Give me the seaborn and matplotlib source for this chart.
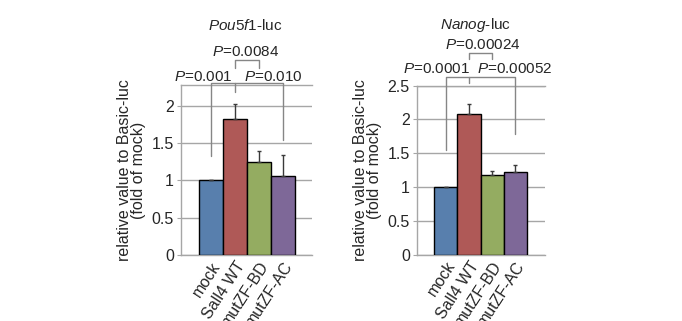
import matplotlib
matplotlib.use("Agg")
import matplotlib.pyplot as plt
import seaborn as sns
import pandas as pd

groups = ["mock", "Sall4 WT", "mutZF-BD", "mutZF-AC"]
colors = ["#4a7ebb", "#be4b48", "#98b954", "#7d60a0"]

pou_vals = [1.0, 1.82, 1.25, 1.055]
pou_err = [0.0, 0.20, 0.15, 0.29]
nanog_vals = [1.0, 2.08, 1.175, 1.215]
nanog_err = [0.0, 0.145, 0.06, 0.11]

pou_p = ["0.001", "0.010", "0.0084"]
nanog_p = ["0.0001", "0.00052", "0.00024"]

sns.set_style("white")
plt.rcParams["font.family"] = ["Liberation Sans", "DejaVu Sans"]
plt.rcParams["mathtext.fontset"] = "custom"
plt.rcParams["mathtext.rm"] = "Liberation Sans"
plt.rcParams["mathtext.it"] = "Liberation Sans:italic"

fs = 11.5     # axis text
fs_p = 11     # p values and titles
grid_c = "#a6a6a6"
line_c = "#868686"

fig = plt.figure(figsize=(6.82, 3.21), dpi=100)
ax1 = fig.add_axes([0.2654, 0.2056, 0.1921, 0.5296])
ax2 = fig.add_axes([0.611, 0.207, 0.188, 0.526])


def draw_panel(ax, vals, err, ymax, yticks, xlim):
    df = pd.DataFrame({"group": groups, "value": vals})
    sns.barplot(data=df, x="group", y="value", hue="group", palette=colors,
                width=1.0, edgecolor="black", linewidth=1.0, legend=False, ax=ax,
                zorder=3)
    ax.errorbar(range(len(vals)), vals, yerr=[[0] * len(vals), err], fmt="none",
                ecolor="#3a3a3a", elinewidth=1.0, capsize=1.6, capthick=1.0, zorder=4)
    ax.set_ylim(0, ymax)
    ax.set_xlim(*xlim)
    ax.set_yticks(yticks)
    ax.set_yticklabels([f"{t:g}" for t in yticks], fontsize=fs)
    ax.yaxis.grid(True, color=grid_c, linewidth=1.0, zorder=0)
    ax.set_axisbelow(True)
    for s in ["left", "bottom", "top"]:
        ax.spines[s].set_color(grid_c)
        ax.spines[s].set_linewidth(1.0)
    ax.spines["right"].set_visible(False)
    ax.tick_params(axis="y", length=3, color=grid_c, pad=2, left=True)
    ax.tick_params(axis="x", length=0, pad=3)
    ax.set_xticks(range(len(groups)))
    ax.set_xticklabels(groups, rotation=57, ha="right", rotation_mode="anchor", fontsize=fs)
    ax.set_xlabel("")
    ax.set_ylabel("relative value to Basic-luc\n(fold of mock)", fontsize=fs,
                  linespacing=0.9, labelpad=4)


def brackets(ax, y_low, drop_left, drop_right, mid_drop, y_top2, drop2):
    kw = dict(color=line_c, linewidth=1.0, clip_on=False, zorder=5)
    ax.plot([0, 0, 3, 3], [drop_left, y_low, y_low, drop_right], **kw)
    ax.plot([1, 1], [y_low, mid_drop], **kw)
    ax.plot([1, 1, 2, 2], [drop2, y_top2, y_top2, drop2], **kw)


def ptext(ax, x, y, p):
    ax.text(x, y, r"$\mathit{P}$=" + p, ha="center", va="center", fontsize=fs_p,
            clip_on=False)


# Pou5f1 panel
draw_panel(ax1, pou_vals, pou_err, 2.28, [0, 0.5, 1, 1.5, 2], (-1.26, 4.21))
brackets(ax1, 2.31, 1.33, 1.54, 2.19, 2.62, 2.51)
ptext(ax1, -0.33, 2.39, pou_p[0])
ptext(ax1, 2.59, 2.39, pou_p[1])
ptext(ax1, 1.43, 2.72, pou_p[2])
ax1.text(1.43, 3.08, r"$\mathit{Pou5f1}$-luc", ha="center", va="center",
         fontsize=fs_p, clip_on=False)

# Nanog panel
draw_panel(ax2, nanog_vals, nanog_err, 2.5, [0, 0.5, 1, 1.5, 2, 2.5], (-1.26, 4.28))
brackets(ax2, 2.63, 1.555, 1.78, 2.54, 2.99, 2.89)
ptext(ax2, -0.40, 2.74, nanog_p[0])
ptext(ax2, 2.98, 2.74, nanog_p[1])
ptext(ax2, 1.58, 3.10, nanog_p[2])
ax2.text(1.28, 3.40, r"$\mathit{Nanog}$-luc", ha="center", va="center",
         fontsize=fs_p, clip_on=False)

plt.savefig("out.png", dpi=100)
